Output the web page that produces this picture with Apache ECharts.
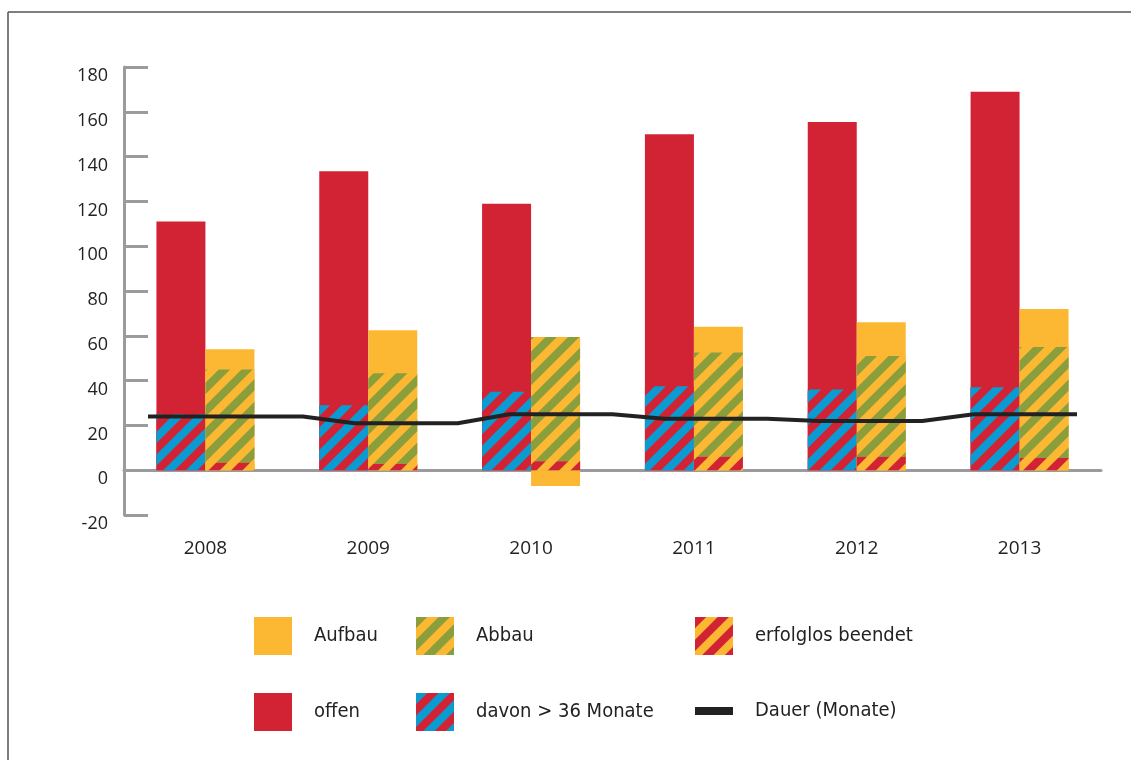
<!DOCTYPE html>
<html><head><meta charset="utf-8">
<script src="https://cdn.jsdelivr.net/npm/echarts@6/dist/echarts.min.js"></script>
<style>html,body{margin:0;padding:0;background:#fff}#c{width:1131px;height:760px}</style>
</head><body><div id="c"></div>
<script>
// ---- data ----
const years = ['2008','2009','2010','2011','2012','2013'];
const offen = [111, 133.5, 119, 150, 155.5, 169];
const davon36 = [25, 29, 35, 37.5, 36, 37];
const aufbau = [54, 62.5, -7, 64, 66, 72];
const abbau = [45, 43.3, 59.5, 52.5, 51, 55];
const erfolglos = [3.3, 2.8, 4, 6, 6, 5.5];
const dauer = [24, 21, 25, 23, 22, 25];
const yMin = -20, yMax = 180, yStep = 20;

// ---- styling ----
const RED = '#d22334', ORANGE = '#fdb833', GREEN = '#8a9e3b', BLUE = '#0a9bd2', GRAY = '#9b9b9f', INK = '#222';
const NUM_FONT = 'Open Sans';
const LEG_FONT = '"Liberation Sans Narrow", "DejaVu Sans Condensed", sans-serif';

function stripes(fg) {
  return { symbol: 'rect', symbolSize: 1, color: fg, dashArrayX: [1, 0], dashArrayY: [8, 8], rotation: -Math.PI / 4 };
}

// line on its own grid: each year's value held over several points
const perYear = [4, 3, 3, 3, 3, 3];
const dauerPts = [];
dauer.forEach((v, i) => { for (let k = 0; k < perYear[i]; k++) dauerPts.push(v); });
const dauerCats = dauerPts.map((_, i) => String(i));

const BW = 49;
const hiddenX = (gi) => ({ type: 'category', data: years, gridIndex: gi, show: false });

function leg(name, left, top, h) {
  return {
    data: [{ name: name, icon: 'rect' }], left: left, top: top, padding: 0,
    itemWidth: 38, itemHeight: h || 38, selectedMode: false,
    textStyle: { fontFamily: LEG_FONT, fontSize: 20, color: INK, padding: [0, 0, 0, 17] }
  };
}

const chart = echarts.init(document.getElementById('c'), null, { renderer: 'canvas' });
chart.setOption({
  animation: false,
  backgroundColor: '#fff',
  grid: [
    { left: 124, right: 30, top: 67, bottom: 245 },
    { left: 148, right: 54, top: 67, bottom: 245 }
  ],
  xAxis: [
    {
      type: 'category', data: years, gridIndex: 0,
      axisLine: { onZero: true, lineStyle: { color: GRAY, width: 3 } },
      axisTick: { inside: true, length: 11, lineStyle: { color: GRAY, width: 3 } },
      axisLabel: { margin: 24, fontFamily: NUM_FONT, fontSize: 19, color: INK }
    },
    hiddenX(0), hiddenX(0),
    { type: 'category', data: dauerCats, gridIndex: 1, boundaryGap: false, show: false }
  ],
  yAxis: [
    {
      type: 'value', min: yMin, max: yMax, interval: yStep, gridIndex: 0,
      axisLine: { show: true, lineStyle: { color: GRAY, width: 3 } },
      axisTick: { show: true, inside: true, length: 24, lineStyle: { color: GRAY, width: 3 } },
      splitLine: { show: false },
      axisLabel: { margin: 16, fontFamily: NUM_FONT, fontSize: 18, color: INK, verticalAlign: 'top' }
    },
    { type: 'value', min: yMin, max: yMax, gridIndex: 1, show: false }
  ],
  legend: [
    leg('Aufbau', 254, 617),
    leg('Abbau', 416, 617),
    leg('erfolglos beendet', 695, 617),
    leg('offen', 254, 693),
    leg('davon > 36 Monate', 416, 693),
    leg('Dauer (Monate)', 695, 701, 8)
  ],
  graphic: [
    { type: 'line', shape: { x1: 8, y1: 12, x2: 1131, y2: 12 }, style: { stroke: '#555', lineWidth: 1.5 }, silent: true },
    { type: 'line', shape: { x1: 8, y1: 12, x2: 8, y2: 760 }, style: { stroke: '#555', lineWidth: 1.5 }, silent: true }
  ],
  series: [
    { name: 'offen', type: 'bar', xAxisIndex: 0, yAxisIndex: 0, data: offen, barWidth: BW, barGap: 0, itemStyle: { color: RED }, z: 2 },
    { name: 'Aufbau', type: 'bar', xAxisIndex: 0, yAxisIndex: 0, data: aufbau, barWidth: BW, barGap: 0, itemStyle: { color: ORANGE }, z: 2 },
    { name: 'davon > 36 Monate', type: 'bar', xAxisIndex: 1, yAxisIndex: 0, data: davon36, barWidth: BW, barGap: 0, itemStyle: { color: RED, decal: stripes(BLUE) }, z: 3 },
    { name: 'Abbau', type: 'bar', xAxisIndex: 1, yAxisIndex: 0, data: abbau, barWidth: BW, barGap: 0, itemStyle: { color: ORANGE, decal: stripes(GREEN) }, z: 3 },
    { name: '_slot', type: 'bar', xAxisIndex: 2, yAxisIndex: 0, data: years.map(() => '-'), barWidth: BW, barGap: 0, z: 4 },
    { name: 'erfolglos beendet', type: 'bar', xAxisIndex: 2, yAxisIndex: 0, data: erfolglos, barWidth: BW, barGap: 0, itemStyle: { color: ORANGE, decal: stripes(RED) }, z: 4 },
    { name: 'Dauer (Monate)', type: 'line', xAxisIndex: 3, yAxisIndex: 1, data: dauerPts, showSymbol: false, symbol: 'none',
      lineStyle: { color: INK, width: 4 }, itemStyle: { color: INK }, z: 6 }
  ]
});
</script></body></html>
